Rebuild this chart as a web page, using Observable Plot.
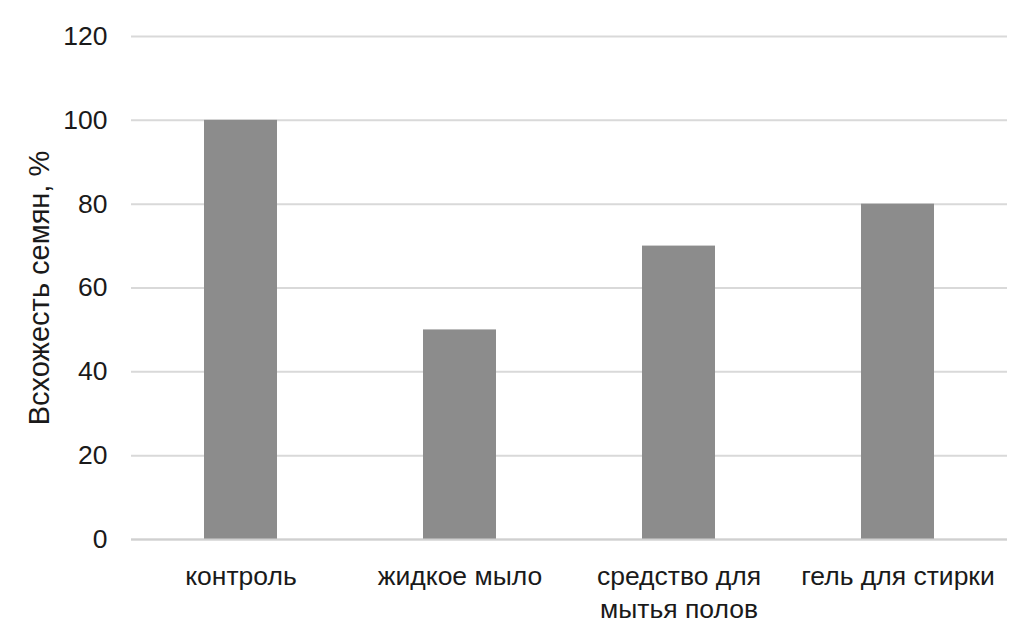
<!DOCTYPE html>
<html>
<head>
<meta charset="utf-8">
<script src="https://cdn.jsdelivr.net/npm/d3@7"></script>
<script src="https://cdn.jsdelivr.net/npm/@observablehq/plot@0.6"></script>
<style>
  html, body { margin: 0; padding: 0; background: #fff; }
  #chart svg { display: block; }
</style>
</head>
<body>
<div id="chart"></div>
<script>
const categories = ["контроль", "жидкое мыло", "средство для\nмытья полов", "гель для стирки"];
const values = [100, 50, 70, 80];
const yTicks = [0, 20, 40, 60, 80, 100, 120];
const yLabel = "Всхожесть семян, %";

const data = categories.map((c, i) => ({category: c, value: values[i]}));

const chart = Plot.plot({
  width: 1014,
  height: 632,
  marginTop: 36,
  marginBottom: 93,
  marginLeft: 131,
  marginRight: 7,
  style: {fontFamily: "'Liberation Sans', Arial, sans-serif", fontSize: "26px", color: "#1a1a1a", background: "#fff"},
  x: {domain: categories, paddingInner: 0.667, paddingOuter: 0.333},
  y: {domain: [0, 120]},
  marks: [
    Plot.gridY(yTicks, {stroke: "#d9d9d9", strokeOpacity: 1, strokeWidth: 2}),
    Plot.barY(data, {x: "category", y: "value", fill: "#8c8c8c"}),
    Plot.ruleY([0], {stroke: "#d0d0d0", strokeWidth: 2}),
    Plot.axisY({ticks: yTicks, tickSize: 0, tickPadding: 24, fontSize: 26.5, label: null}),
    Plot.axisY({ticks: [], tickSize: 0, fontSize: 29, label: yLabel, labelAnchor: "center", labelArrow: "none", labelOffset: 103}),
    Plot.axisX({tickSize: 0, tickPadding: 22, fontSize: 26.5, lineHeight: 1.25, label: null})
  ]
});
document.getElementById("chart").appendChild(chart);
</script>
</body>
</html>
